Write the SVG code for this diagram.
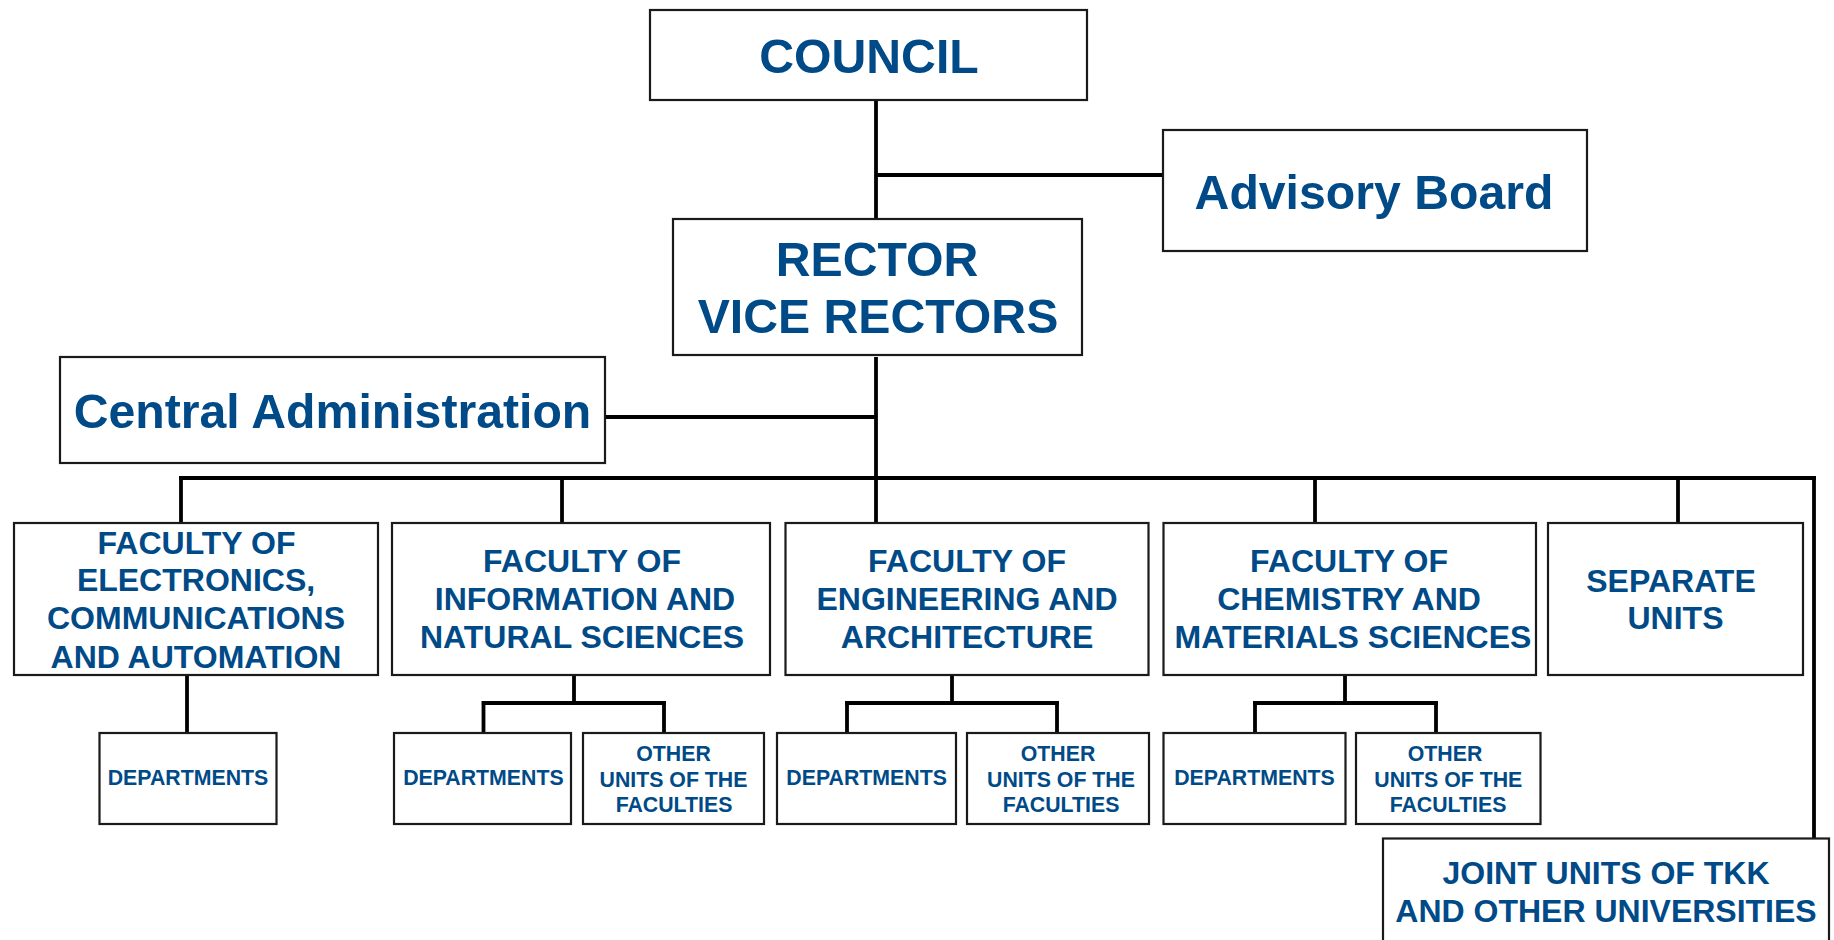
<svg xmlns="http://www.w3.org/2000/svg" width="1834" height="940" viewBox="0 0 1834 940">
<style>
.box{fill:#fff;stroke:#1a1a1a;stroke-width:2.2}
.t{font-family:"Liberation Sans",Arial,sans-serif;font-weight:bold;fill:#004A87;text-anchor:middle}
.xl{font-size:48.2px}
.md{font-size:32px}
.sm{font-size:21.3px}
.c{stroke:#000;stroke-width:3.8;fill:none;stroke-linecap:butt}
</style>
<rect width="1834" height="940" fill="#fff"/>
<g id="connectors">
<path class="c" d="M876 100V222"/>
<path class="c" d="M876 175H1163"/>
<path class="c" d="M876 357V480"/>
<path class="c" d="M605 417H876"/>
<path class="c" d="M179 478H1816"/>
<path class="c" d="M181 478V523"/>
<path class="c" d="M562 478V523"/>
<path class="c" d="M876 478V523"/>
<path class="c" d="M1315 478V523"/>
<path class="c" d="M1678 478V523"/>
<path class="c" d="M1814 476V841"/>
<path class="c" d="M187 675V733"/>
<path class="c" d="M574 675V703M481.5 703H666M483.5 703V733M664 703V733"/>
<path class="c" d="M952 675V703M845 703H1059M847 703V733M1057 703V733"/>
<path class="c" d="M1345 675V703M1253 703H1438M1255 703V733M1436 703V733"/>
</g>
<g id="council"><rect class="box" x="650" y="10" width="437" height="90"/><text class="t xl" x="869" y="72.7">COUNCIL</text></g>
<g id="advisory"><rect class="box" x="1163" y="130" width="424" height="121"/><text class="t xl" x="1374" y="208.7">Advisory Board</text></g>
<g id="rector"><rect class="box" x="673" y="219" width="409" height="136"/><text class="t xl" x="877" y="276">RECTOR</text><text class="t xl" x="878" y="333.3">VICE RECTORS</text></g>
<g id="central-admin"><rect class="box" x="60" y="357" width="545" height="106"/><text class="t xl" x="332.5" y="427.7">Central Administration</text></g>
<g id="fac-electronics"><rect class="box" x="14" y="523" width="364" height="152"/>
<text class="t md" x="196.5" y="554">FACULTY OF</text><text class="t md" x="196" y="591.3">ELECTRONICS,</text><text class="t md" x="196" y="629.3">COMMUNICATIONS</text><text class="t md" x="196" y="668.3">AND AUTOMATION</text></g>
<g id="fac-information"><rect class="box" x="392" y="523" width="378" height="152"/>
<text class="t md" x="582" y="572.3">FACULTY OF</text><text class="t md" x="585" y="610.3">INFORMATION AND</text><text class="t md" x="582" y="648.3">NATURAL SCIENCES</text></g>
<g id="fac-engineering"><rect class="box" x="785.5" y="523" width="363" height="152"/>
<text class="t md" x="967" y="572.3">FACULTY OF</text><text class="t md" x="967" y="610.3">ENGINEERING AND</text><text class="t md" x="967" y="648.3">ARCHITECTURE</text></g>
<g id="fac-chemistry"><rect class="box" x="1163.5" y="523" width="372.5" height="152"/>
<text class="t md" x="1349" y="572.3">FACULTY OF</text><text class="t md" x="1349" y="610.3">CHEMISTRY AND</text><text class="t md" x="1353" y="648.3">MATERIALS SCIENCES</text></g>
<g id="separate"><rect class="box" x="1548" y="523" width="255" height="152"/>
<text class="t md" x="1671" y="591.7">SEPARATE</text><text class="t md" x="1675.5" y="629.3">UNITS</text></g>
<g id="dept1"><rect class="box" x="99.5" y="733" width="177" height="91"/><text class="t sm" x="188" y="785">DEPARTMENTS</text></g>
<g id="dept2"><rect class="box" x="394" y="733" width="177" height="91"/><text class="t sm" x="483.4" y="785">DEPARTMENTS</text></g>
<g id="other2"><rect class="box" x="583" y="733" width="181" height="91"/><text class="t sm" x="673.5" y="760.7">OTHER</text><text class="t sm" x="673.5" y="786.5">UNITS OF THE</text><text class="t sm" x="674" y="811.7">FACULTIES</text></g>
<g id="dept3"><rect class="box" x="777" y="733" width="179" height="91"/><text class="t sm" x="866.6" y="785">DEPARTMENTS</text></g>
<g id="other3"><rect class="box" x="967" y="733" width="182" height="91"/><text class="t sm" x="1058" y="760.7">OTHER</text><text class="t sm" x="1061" y="786.5">UNITS OF THE</text><text class="t sm" x="1061" y="811.7">FACULTIES</text></g>
<g id="dept4"><rect class="box" x="1163.5" y="733" width="182" height="91"/><text class="t sm" x="1254.5" y="785">DEPARTMENTS</text></g>
<g id="other4"><rect class="box" x="1356" y="733" width="184.5" height="91"/><text class="t sm" x="1445" y="760.7">OTHER</text><text class="t sm" x="1448.3" y="786.5">UNITS OF THE</text><text class="t sm" x="1448" y="811.7">FACULTIES</text></g>
<g id="joint"><rect class="box" x="1383" y="838.5" width="446" height="130"/>
<text class="t md" x="1606" y="884">JOINT UNITS OF TKK</text><text class="t md" x="1606" y="922">AND OTHER UNIVERSITIES</text></g>
</svg>
